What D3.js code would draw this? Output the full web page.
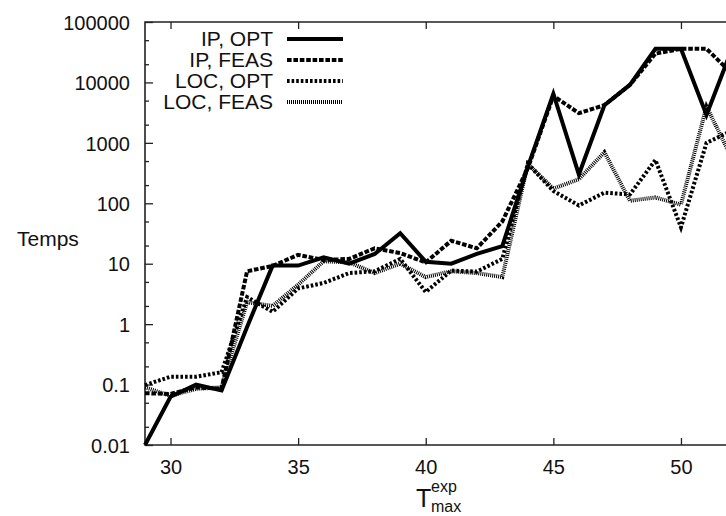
<!DOCTYPE html>
<html>
<head>
<meta charset="utf-8">
<script src="https://cdn.jsdelivr.net/npm/d3@7"></script>
<style>
  body { margin: 0; background: #fff; }
  svg text { font-family: "Liberation Sans", Arial, Helvetica, sans-serif; fill: #111; }
</style>
</head>
<body>
<div id="chart"></div>
<script>
// T_max^exp values on the x axis
const tmax = [29, 30, 31, 32, 33, 34, 35, 36, 37, 38, 39, 40, 41, 42, 43, 44, 45, 46, 47, 48, 49, 50, 51, 52]

// running times (Temps), log scale
const ipOpt   = [0.01, 0.063, 0.1, 0.08, 0.9, 9.3, 9.3, 12.8, 10, 14.5, 32, 10.8, 10, 14.5, 19.6, 400, 6500, 300, 4200, 9100, 36000, 36000, 2900, 36000]
const ipFeas  = [0.072, 0.07, 0.09, 0.085, 7.5, 9.2, 14, 11.5, 12, 18, 15, 10.5, 24, 18, 50, 380, 6000, 3100, 4200, 9100, 30000, 36000, 36000, 14000]
const locOpt  = [0.098, 0.135, 0.135, 0.16, 2.8, 1.6, 3.9, 4.8, 7, 7.5, 12, 3.4, 7.7, 7.4, 12, 450, 160, 92, 150, 140, 520, 40, 1000, 1600]
const locFeas = [0.09, 0.065, 0.085, 0.09, 2.3, 2.0, 4.5, 11, 10.5, 7, 10, 6, 7.5, 7, 6, 450, 175, 250, 700, 110, 125, 95, 4000, 550]

const seriesNames = ['IP, OPT', 'IP, FEAS', 'LOC, OPT', 'LOC, FEAS']

const yMajor = [0.01, 0.1, 1, 10, 100, 1000, 10000, 100000]
const yMinor = [0.02, 0.05, 0.2, 0.5, 2, 5, 20, 50, 200, 500, 2000, 5000, 20000, 50000]
const xTicks = [30, 35, 40, 45, 50]

const W = 726, H = 516
const svg = d3.select('#chart').append('svg')
  .attr('width', W)
  .attr('height', H)

const x = d3.scaleLinear().domain([29, 52]).range([145, 732])
const y = d3.scaleLog().domain([0.01, 100000]).range([445, 22])

const series = [
  { name: seriesNames[0], values: ipOpt,   dash: null },
  { name: seriesNames[1], values: ipFeas,  dash: '4.6,1.8' },
  { name: seriesNames[2], values: locOpt,  dash: '2.6,2' },
  { name: seriesNames[3], values: locFeas, dash: '1,1' }
]

// axes
const axisColor = '#222'
const styleAxis = g => {
  g.select('.domain').remove()
  g.selectAll('line').attr('stroke', axisColor).attr('stroke-width', 1.3)
  g.selectAll('text').attr('font-size', 20).attr('fill', '#111')
}

svg.append('g')
  .attr('transform', 'translate(145,0)')
  .call(d3.axisLeft(y).tickValues(yMajor).tickSize(-8).tickPadding(15).tickFormat(d => String(d)))
  .call(styleAxis)
  .selectAll('text').attr('dy', '0.36em')

svg.append('g')
  .attr('transform', 'translate(145,0)')
  .call(d3.axisLeft(y).tickValues(yMinor).tickSize(-4).tickFormat(''))
  .call(styleAxis)

svg.append('g')
  .attr('transform', 'translate(0,445)')
  .call(d3.axisBottom(x).tickValues(xTicks).tickSize(-7).tickPadding(15).tickFormat(d3.format('d')))
  .call(styleAxis)
  .selectAll('text').attr('dy', '0.71em')

svg.append('g')
  .attr('transform', 'translate(0,22)')
  .call(d3.axisTop(x).tickValues(xTicks).tickSize(-7).tickFormat(''))
  .call(styleAxis)

// frame
svg.append('path')
  .attr('d', `M${x(52) + 10},22H145V445H${x(52) + 10}`)
  .attr('fill', 'none')
  .attr('stroke', axisColor)
  .attr('stroke-width', 1.6)

// lines
const line = d3.line()
  .x((d, i) => x(tmax[i]))
  .y(d => y(d))

svg.selectAll('path.series')
  .data(series)
  .enter()
  .append('path')
  .attr('class', 'series')
  .attr('d', d => line(d.values))
  .attr('fill', 'none')
  .attr('stroke', '#000')
  .attr('stroke-width', 4)
  .attr('stroke-linejoin', 'miter')
  .attr('stroke-dasharray', d => d.dash)

// legend
const legend = svg.append('g')
const row = legend.selectAll('g.row')
  .data(series)
  .enter()
  .append('g')
  .attr('class', 'row')
  .attr('transform', (d, i) => 'translate(0,' + (39 + i * 21) + ')')

row.append('text')
  .attr('x', 273)
  .attr('y', 7)
  .attr('text-anchor', 'end')
  .attr('font-size', 21)
  .text(d => d.name)

row.append('line')
  .attr('x1', 287)
  .attr('x2', 343)
  .attr('stroke', '#000')
  .attr('stroke-width', 4)
  .attr('stroke-dasharray', d => d.dash)

// axis titles
svg.append('text')
  .attr('x', 17)
  .attr('y', 246)
  .attr('font-size', 21)
  .text('Temps')

svg.append('text').attr('x', 416).attr('y', 507).attr('font-size', 25).text('T')
svg.append('text').attr('x', 431).attr('y', 492).attr('font-size', 16).text('exp')
svg.append('text').attr('x', 431).attr('y', 512).attr('font-size', 16).text('max')
</script>
</body>
</html>
